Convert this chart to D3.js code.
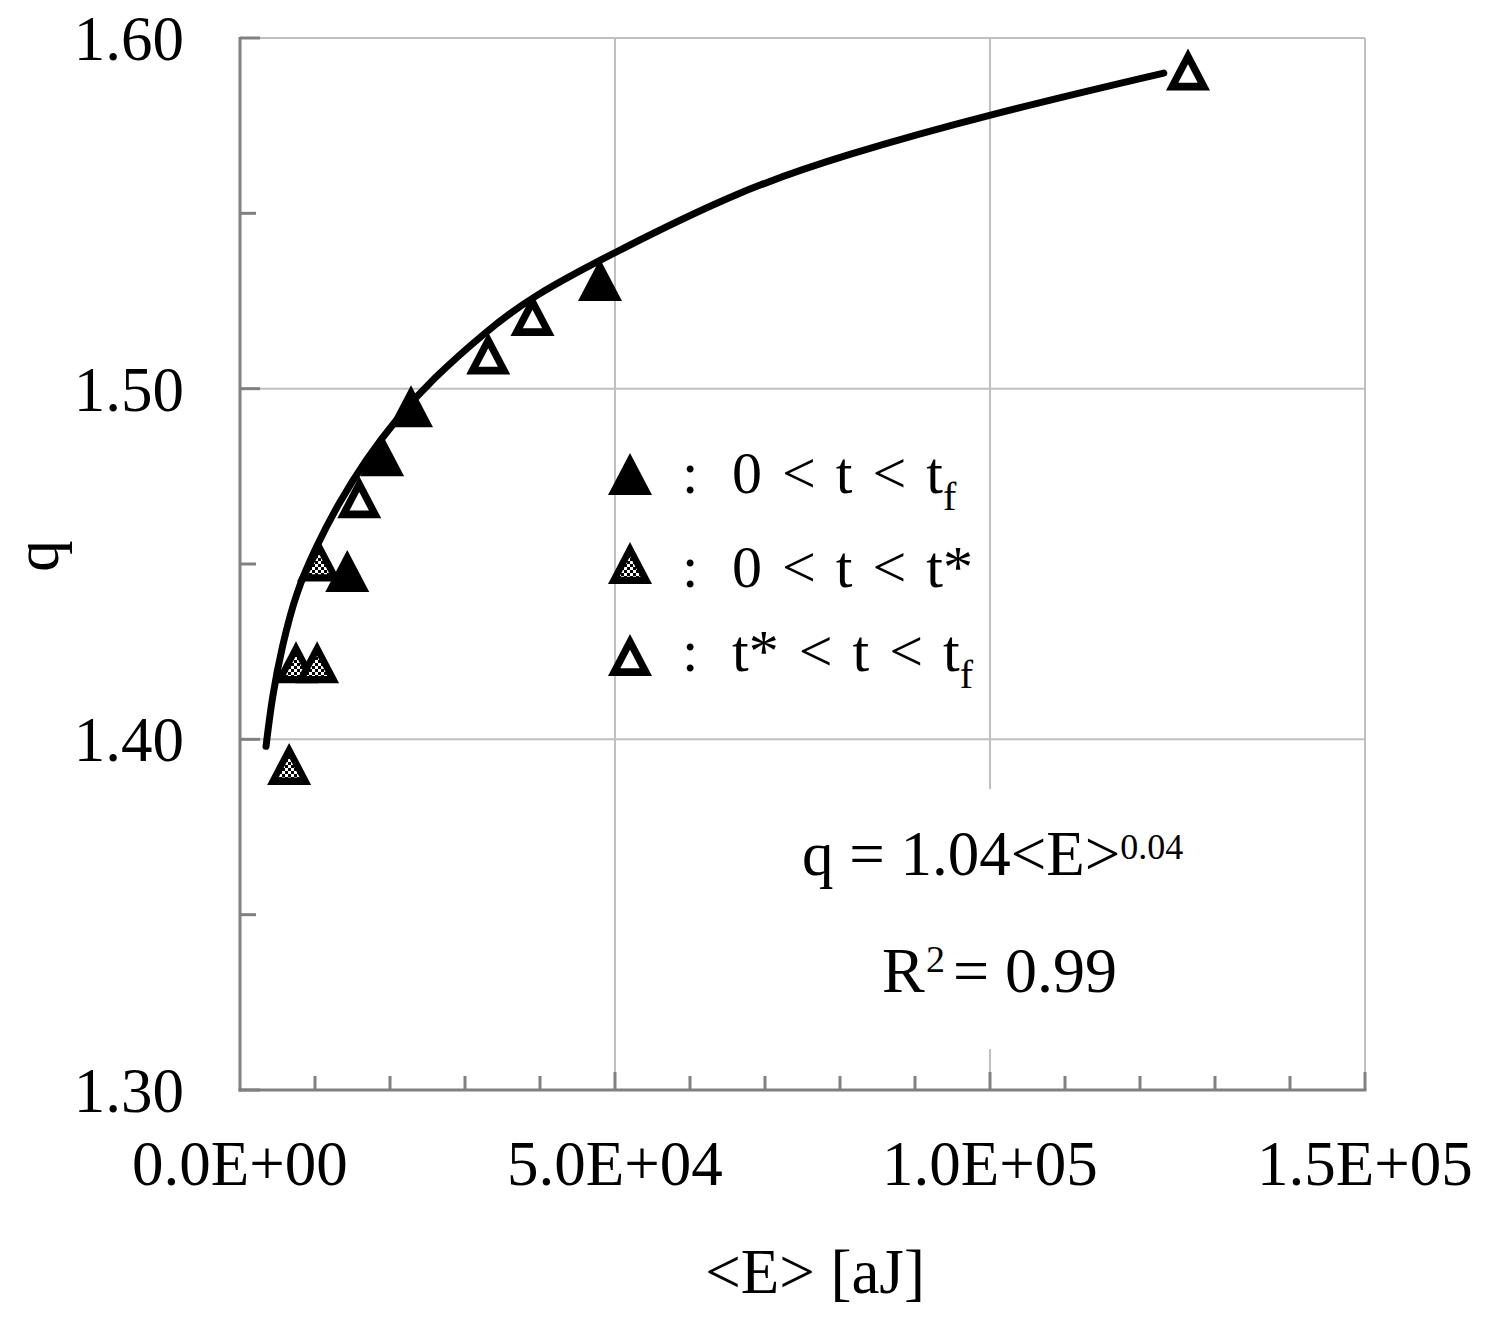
<!DOCTYPE html>
<html>
<head>
<meta charset="utf-8">
<script src="https://cdn.jsdelivr.net/npm/d3@7"></script>
<style>
  html, body { margin: 0; padding: 0; background: #fff; }
  svg { display: block; }
  text { font-family: "Liberation Serif", "Times New Roman", serif; fill: #000; }
</style>
</head>
<body>
<svg id="chart" width="1493" height="1335"></svg>
<script>
// ---- data ----
const filledE = [14300, 18950, 22800, 48000];
const filledQ = [1.448, 1.481, 1.495, 1.531];

const checkE = [6550, 7470, 10280, 10540];
const checkQ = [1.393, 1.422, 1.422, 1.451];

const openE = [15900, 33100, 39000, 126400];
const openQ = [1.469, 1.510, 1.521, 1.591];

// fitted trend curve
const fitE = [3470, 4270, 5600, 7470, 10140, 13210, 16810, 20820, 25620, 32830, 38960, 49910, 66590, 80330, 100000, 123170];
const fitQ = [1.398, 1.412, 1.4265, 1.442, 1.455, 1.4676, 1.4799, 1.4913, 1.5027, 1.5164, 1.5264, 1.5389, 1.5565, 1.5665, 1.5783, 1.5900];

const xMajorTicks = [0, 50000, 100000, 150000];
const xTickLabels = ["0.0E+00", "5.0E+04", "1.0E+05", "1.5E+05"];
const yMajorTicks = [1.30, 1.40, 1.50, 1.60];
const yTickLabels = ["1.30", "1.40", "1.50", "1.60"];

// ---- layout ----
const svg = d3.select("#chart");
const L = 240, R = 1365, T = 38, B = 1090;
const x = d3.scaleLinear().domain([0, 150000]).range([L, R]);
const y = d3.scaleLinear().domain([1.30, 1.60]).range([B, T]);

const gridColor = "#c0c0c0", axisColor = "#808080";

// checker pattern
const defs = svg.append("defs");
const pat = defs.append("pattern").attr("id", "checker").attr("patternUnits", "userSpaceOnUse")
  .attr("width", 6).attr("height", 6);
pat.append("rect").attr("width", 6).attr("height", 6).attr("fill", "#fff");
pat.append("rect").attr("x", 0).attr("y", 0).attr("width", 3).attr("height", 3).attr("fill", "#000");
pat.append("rect").attr("x", 3).attr("y", 3).attr("width", 3).attr("height", 3).attr("fill", "#000");

// gridlines
const grid = svg.append("g");
grid.selectAll(".gx").data(xMajorTicks.filter(d => d > 0)).join("line")
  .attr("x1", d => x(d)).attr("x2", d => x(d)).attr("y1", T).attr("y2", B)
  .attr("stroke", gridColor).attr("stroke-width", 2);
grid.selectAll(".gy").data(yMajorTicks.filter(d => d > 1.30)).join("line")
  .attr("x1", L).attr("x2", R).attr("y1", d => y(d)).attr("y2", d => y(d))
  .attr("stroke", gridColor).attr("stroke-width", 2);

// equation box (white background hides the gridline behind the text)
svg.append("rect").attr("x", 790).attr("y", 789).attr("width", 410).attr("height", 260).attr("fill", "#fff");

// axes
const ax = svg.append("g");
ax.append("line").attr("x1", L).attr("x2", L).attr("y1", T - 1).attr("y2", B + 1.5)
  .attr("stroke", axisColor).attr("stroke-width", 3);
ax.append("line").attr("x1", L - 1.5).attr("x2", R + 1.5).attr("y1", B).attr("y2", B)
  .attr("stroke", axisColor).attr("stroke-width", 3);

// y ticks (inside)
const yMinor = [1.35, 1.45, 1.55];
ax.selectAll(".ytM").data(yMajorTicks).join("line")
  .attr("x1", L).attr("x2", L + 20).attr("y1", d => y(d)).attr("y2", d => y(d))
  .attr("stroke", axisColor).attr("stroke-width", 3);
ax.selectAll(".ytm").data(yMinor).join("line")
  .attr("x1", L).attr("x2", L + 16).attr("y1", d => y(d)).attr("y2", d => y(d))
  .attr("stroke", axisColor).attr("stroke-width", 3);

// x ticks (inside)
const xTicksAll = d3.range(10000, 150001, 10000);
ax.selectAll(".xt").data(xTicksAll).join("line")
  .attr("x1", d => x(d)).attr("x2", d => x(d))
  .attr("y1", B).attr("y2", d => (d % 50000 === 0) ? B - 18 : B - 14)
  .attr("stroke", axisColor).attr("stroke-width", 3);

// tick labels
svg.selectAll(".ytl").data(yMajorTicks).join("text")
  .attr("x", 184).attr("y", d => y(d) + 22)
  .attr("text-anchor", "end").attr("font-size", 63)
  .text((d, i) => yTickLabels[i]);
svg.selectAll(".xtl").data(xMajorTicks).join("text")
  .attr("x", d => x(d)).attr("y", 1185)
  .attr("text-anchor", "middle").attr("font-size", 63)
  .text((d, i) => xTickLabels[i]);

// axis titles
svg.append("text").attr("x", 815).attr("y", 1293).attr("text-anchor", "middle")
  .attr("font-size", 63).text("<E> [aJ]");
svg.append("text").attr("transform", "translate(58,556) rotate(-90)")
  .attr("text-anchor", "middle").attr("font-size", 63).text("q");

// trend curve
const line = d3.line().x((d, i) => x(fitE[i])).y((d, i) => y(fitQ[i])).curve(d3.curveBasis);
svg.append("path").datum(fitE).attr("d", line)
  .attr("fill", "none").attr("stroke", "#000").attr("stroke-width", 7)
  .attr("stroke-linecap", "round").attr("stroke-linejoin", "round");

// markers
const TW = 44, TH = 42;
function triPath(cx, cy, s) {
  const apex = [cx, cy - TH / 2], bl = [cx - TW / 2, cy + TH / 2], br = [cx + TW / 2, cy + TH / 2];
  const gx = cx, gy = cy - TH / 2 + TH * 2 / 3;
  const f = p => [gx + (p[0] - gx) * s, gy + (p[1] - gy) * s];
  const pts = [apex, bl, br].map(f);
  return "M" + pts.map(p => p.join(",")).join("L") + "Z";
}
function drawMarker(g, cx, cy, type) {
  g.append("path").attr("d", triPath(cx, cy, 1)).attr("fill", "#000");
  if (type === "open") {
    g.append("path").attr("d", triPath(cx, cy, 0.44)).attr("fill", "#fff");
  } else if (type === "check") {
    g.append("path").attr("d", triPath(cx, cy, 0.48)).attr("fill", "url(#checker)");
  }
}
const mk = svg.append("g");
checkE.forEach((e, i) => drawMarker(mk, x(e), y(checkQ[i]), "check"));
openE.forEach((e, i) => drawMarker(mk, x(e), y(openQ[i]), "open"));
filledE.forEach((e, i) => drawMarker(mk, x(e), y(filledQ[i]), "filled"));

// legend
const legend = [
  { type: "filled", main: "0 < t < t", sub: "f" },
  { type: "check", main: "0 < t < t*", sub: "" },
  { type: "open", main: "t* < t < t", sub: "f" }
];
const legY = [474, 563, 655];
const legBase = [493, 587, 671];
legend.forEach((d, i) => {
  const g = svg.append("g");
  drawMarker(g, 630, legY[i], d.type);
  g.append("text").attr("x", 682).attr("y", legBase[i]).attr("font-size", 59).text(":");
  const t = g.append("text").attr("x", 732).attr("y", legBase[i]).attr("font-size", 60)
    .attr("word-spacing", 5);
  t.append("tspan").text(d.main);
  if (d.sub) t.append("tspan").attr("font-size", 40).attr("dy", 17).text(d.sub);
});

// equation
const eq = svg.append("text").attr("x", 802).attr("y", 875).attr("font-size", 63);
eq.append("tspan").text("q = 1.04<E>");
eq.append("tspan").attr("font-size", 36).attr("dy", -16).text("0.04");
svg.append("text").attr("x", 882).attr("y", 992).attr("font-size", 64).text("R");
svg.append("text").attr("x", 926).attr("y", 972).attr("font-size", 38).text("2");
svg.append("text").attr("x", 953).attr("y", 992).attr("font-size", 64).text("= 0.99");
</script>
</body>
</html>
